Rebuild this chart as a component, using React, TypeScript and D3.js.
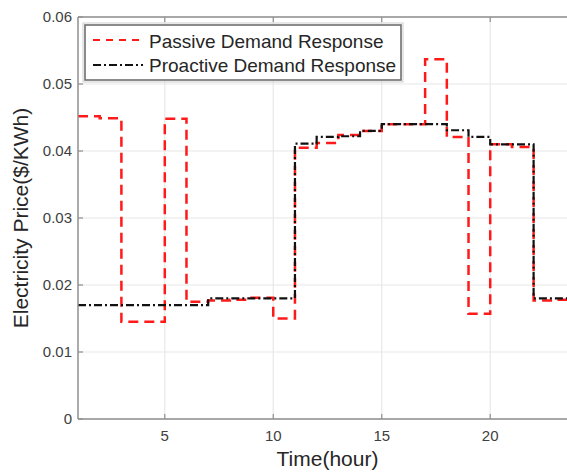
import React from "react";
import * as d3 from "d3";

const hours = [1,2,3,4,5,6,7,8,9,10,11,12,13,14,15,16,17,18,19,20,21,22,23,24];
const passive = [0.0452,0.0449,0.0145,0.0145,0.0448,0.0175,0.0177,0.0178,0.0181,0.0150,0.0405,0.0412,0.0424,0.0430,0.0440,0.0440,0.0537,0.0421,0.0157,0.0410,0.0406,0.0177,0.0178,0.0178];
const proactive = [0.0170,0.0170,0.0170,0.0170,0.0170,0.0170,0.0180,0.0180,0.0180,0.0180,0.0411,0.0421,0.0422,0.0430,0.0440,0.0440,0.0440,0.0431,0.0421,0.0410,0.0410,0.0180,0.0180,0.0180];
const xTicks = [5,10,15,20];
const yTicks = [0,0.01,0.02,0.03,0.04,0.05,0.06];
const yTickLabels = ["0","0.01","0.02","0.03","0.04","0.05","0.06"];
const seriesNames = ["Passive Demand Response","Proactive Demand Response"];

export default function App() {
  const W = 567, H = 472;
  const left = 78, right = 577, top = 17, bottom = 419;
  const x = d3.scaleLinear().domain([1,24]).range([left,right]);
  const y = d3.scaleLinear().domain([0,0.06]).range([bottom,top]);
  const line = d3.line<number>().x((_, i) => x(hours[i])).y(d => y(d)).curve(d3.curveStepAfter);
  const font = "'Liberation Sans', Arial, sans-serif";
  const axisColor = "#8f8f8f";
  const grid = "#e8e8e8";
  return (
    <svg width={W} height={H} style={{position:"absolute",left:0,top:0,background:"#fff"}} fontFamily={font}>
      <defs>
        <clipPath id="plot"><rect x={left} y={top} width={right-left} height={bottom-top}/></clipPath>
      </defs>
      <rect x={0} y={0} width={W} height={H} fill="#fff"/>
      {xTicks.map(t => <line key={"gx"+t} x1={x(t)} x2={x(t)} y1={top} y2={bottom} stroke={grid} strokeWidth={1.2}/>)}
      {yTicks.map(t => <line key={"gy"+t} x1={left} x2={right} y1={y(t)} y2={y(t)} stroke={grid} strokeWidth={1.2}/>)}
      <g clipPath="url(#plot)">
        <path d={line(passive) || ""} fill="none" stroke="#ff1a1a" strokeWidth={2.5} strokeDasharray="10,6"/>
        <path d={line(proactive) || ""} fill="none" stroke="#111" strokeWidth={2.2} strokeDasharray="8,3,2,3"/>
      </g>
      <line x1={left} x2={left} y1={top} y2={bottom} stroke={axisColor} strokeWidth={1.5}/>
      <line x1={left} x2={right} y1={bottom} y2={bottom} stroke={axisColor} strokeWidth={1.5}/>
      <line x1={left} x2={right} y1={top} y2={top} stroke={axisColor} strokeWidth={1.5}/>
      {xTicks.map(t => <g key={"tx"+t}>
        <line x1={x(t)} x2={x(t)} y1={bottom} y2={bottom-5} stroke={axisColor} strokeWidth={1.2}/>
        <line x1={x(t)} x2={x(t)} y1={top} y2={top+5} stroke={axisColor} strokeWidth={1.2}/>
        <text x={x(t)} y={441} textAnchor="middle" fontSize={15} fill="#404040">{t}</text>
      </g>)}
      {yTicks.map((t,i) => <g key={"ty"+t}>
        <line x1={left} x2={left+5} y1={y(t)} y2={y(t)} stroke={axisColor} strokeWidth={1.2}/>
        <text x={72} y={y(t)+5} textAnchor="end" fontSize={15} fill="#404040">{yTickLabels[i]}</text>
      </g>)}
      <text x={(left+right)/2} y={466} textAnchor="middle" fontSize={21} fill="#262626">Time(hour)</text>
      <text transform={`translate(28,${(top+bottom)/2}) rotate(-90)`} textAnchor="middle" fontSize={21} fill="#262626">Electricity Price($/KWh)</text>
      <rect x={83} y={23} width={320} height={59} fill="none" stroke="#cfcfcf" strokeWidth={1}/>
      <rect x={85} y={25} width={316} height={55} fill="#fff" stroke="#6e6e6e" strokeWidth={1.6}/>
      <line x1={93} x2={143} y1={40} y2={40} stroke="#ff1a1a" strokeWidth={2.2} strokeDasharray="7,6"/>
      <line x1={93} x2={143} y1={65} y2={65} stroke="#111" strokeWidth={2} strokeDasharray="8,3,2,3"/>
      <text x={149} y={48} fontSize={19} fill="#262626">{seriesNames[0]}</text>
      <text x={149} y={72} fontSize={19} fill="#262626">{seriesNames[1]}</text>
    </svg>
  );
}
